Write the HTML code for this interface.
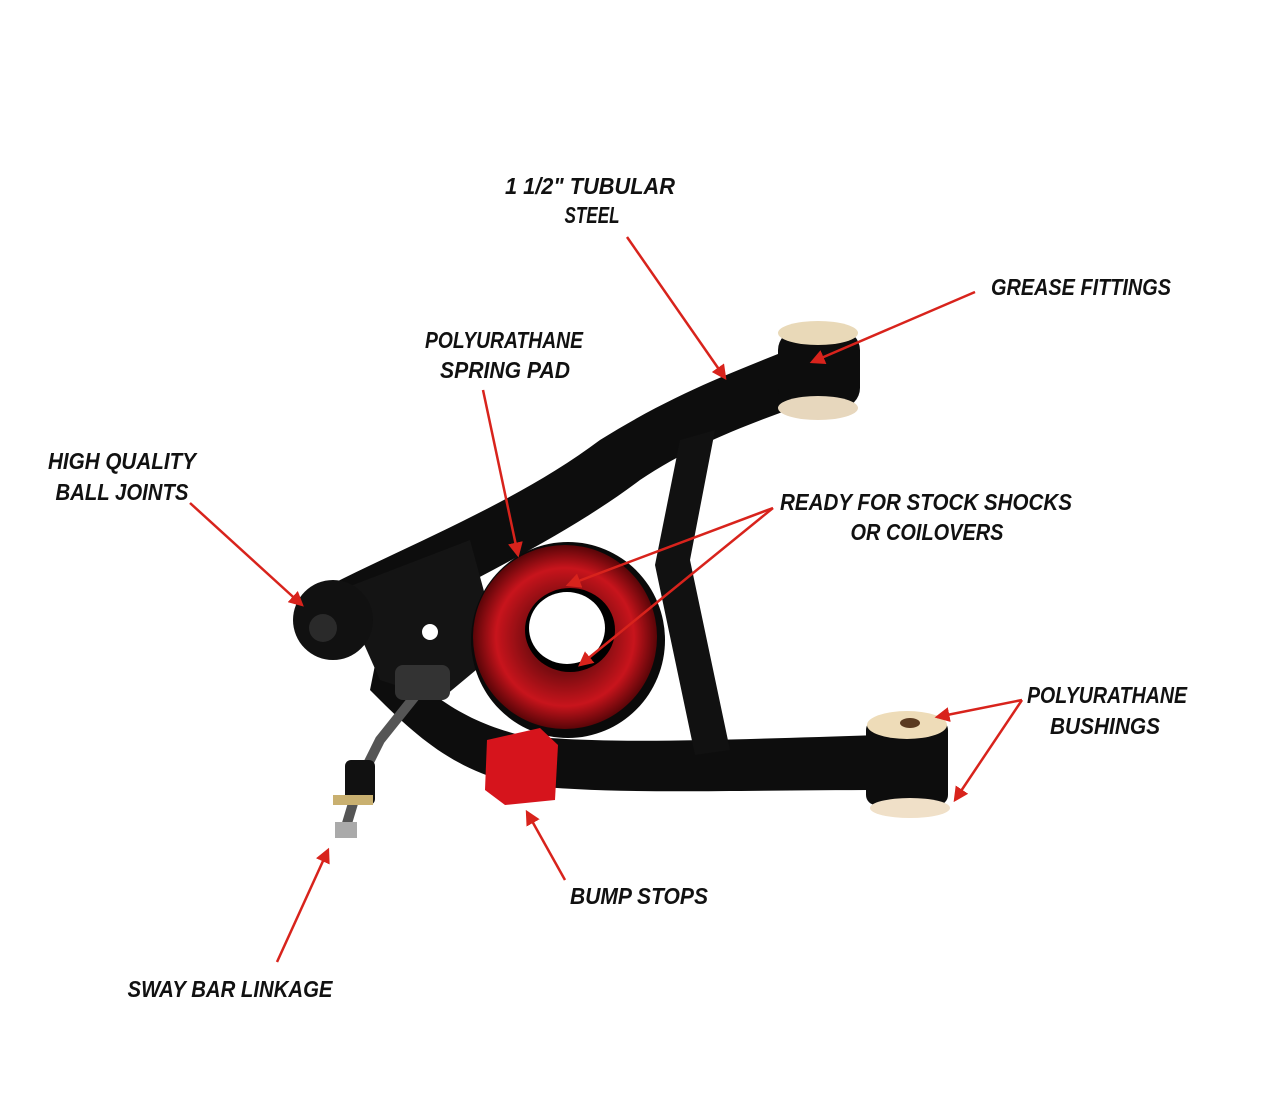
<!DOCTYPE html>
<html><head><meta charset="utf-8"><style>
html,body{margin:0;padding:0;background:#fff;}
svg{display:block}
text{font-family:"Liberation Sans",sans-serif;font-weight:bold;font-style:italic;font-size:23px;fill:#111;}
</style></head><body>
<svg width="1280" height="1097" viewBox="0 0 1280 1097" xmlns="http://www.w3.org/2000/svg">
<defs>
<marker id="ah" markerWidth="6" markerHeight="6" refX="5" refY="3" orient="auto" markerUnits="strokeWidth">
<path d="M0,0 L6,3 L0,6 Z" fill="#d8231c"/></marker>
<radialGradient id="pad" cx="0.5" cy="0.5" r="0.5"><stop offset="0.4" stop-color="#7a0c10"/><stop offset="0.75" stop-color="#c8141c"/><stop offset="1" stop-color="#5a0508"/></radialGradient>
</defs>
<!-- upper tube -->
<path d="M330,585 C420,540 520,500 600,440 C680,390 740,370 800,345 L830,395 C760,420 700,440 640,480 C560,540 470,580 380,630 Z" fill="#0d0d0d"/>
<!-- lower tube -->
<path d="M380,640 C420,690 460,720 520,735 C600,745 720,740 880,735 L885,790 C720,790 620,795 520,785 C450,770 410,730 370,690 Z" fill="#0d0d0d"/>
<!-- brace -->
<path d="M680,440 L715,430 L690,560 L730,750 L695,755 L655,565 Z" fill="#111"/>
<!-- web plate -->
<path d="M340,590 L470,540 L500,650 L440,700 L380,680 Z" fill="#141414"/>
<!-- spring pad -->
<ellipse cx="568" cy="640" rx="97" ry="98" fill="#0a0a0a"/>
<ellipse cx="565" cy="637" rx="92" ry="92" fill="url(#pad)"/>
<ellipse cx="570" cy="630" rx="45" ry="42" fill="#000"/>
<ellipse cx="567" cy="628" rx="38" ry="36" fill="#fff"/>
<!-- ball joint -->
<circle cx="333" cy="620" r="40" fill="#111"/>
<circle cx="323" cy="628" r="14" fill="#2a2a2a"/>
<circle cx="430" cy="632" r="8" fill="#fff"/>
<!-- upper bushing -->
<rect x="778" y="330" width="82" height="78" rx="20" fill="#0d0d0d"/>
<ellipse cx="818" cy="333" rx="40" ry="12" fill="#e9d9b8"/>
<ellipse cx="818" cy="408" rx="40" ry="12" fill="#e7d7bd"/>
<!-- lower bushing -->
<rect x="866" y="720" width="82" height="85" rx="10" fill="#0d0d0d"/>
<ellipse cx="907" cy="725" rx="40" ry="14" fill="#eedcb8"/>
<ellipse cx="910" cy="723" rx="10" ry="5" fill="#5a3a20"/>
<ellipse cx="910" cy="808" rx="40" ry="10" fill="#f0e0c8"/>
<!-- bump stop -->
<path d="M487,740 L540,728 L558,745 L555,800 L505,805 L485,790 Z" fill="#d6141c"/>
<!-- sway link -->
<path d="M420,690 L380,740 L360,780 L345,830" stroke="#555" stroke-width="10" fill="none"/>
<rect x="345" y="760" width="30" height="45" rx="6" fill="#111"/>
<rect x="333" y="795" width="40" height="10" fill="#c9b070"/>
<rect x="335" y="822" width="22" height="16" fill="#aaa"/>
<rect x="395" y="665" width="55" height="35" rx="8" fill="#333"/>
<!-- arrows -->
<g stroke="#d8231c" stroke-width="2.5" fill="none" marker-end="url(#ah)">
<line x1="627" y1="237" x2="725" y2="378"/>
<line x1="975" y1="292" x2="812" y2="362"/>
<line x1="483" y1="390" x2="518" y2="555"/>
<line x1="190" y1="503" x2="302" y2="605"/>
<line x1="773" y1="508" x2="568" y2="585"/>
<line x1="773" y1="508" x2="580" y2="665"/>
<line x1="1022" y1="700" x2="937" y2="717"/>
<line x1="1022" y1="700" x2="955" y2="800"/>
<line x1="565" y1="880" x2="527" y2="812"/>
<line x1="277" y1="962" x2="328" y2="850"/>
</g>
<!-- labels -->
<g text-anchor="middle">
<text x="590" y="194" textLength="170" lengthAdjust="spacingAndGlyphs">1 1/2" TUBULAR</text>
<text x="592" y="223" textLength="55" lengthAdjust="spacingAndGlyphs">STEEL</text>
<text x="1081" y="295" textLength="180" lengthAdjust="spacingAndGlyphs">GREASE FITTINGS</text>
<text x="504" y="348" textLength="158" lengthAdjust="spacingAndGlyphs">POLYURATHANE</text>
<text x="505" y="378" textLength="130" lengthAdjust="spacingAndGlyphs">SPRING PAD</text>
<text x="122" y="469" textLength="148" lengthAdjust="spacingAndGlyphs">HIGH QUALITY</text>
<text x="122" y="500" textLength="133" lengthAdjust="spacingAndGlyphs">BALL JOINTS</text>
<text x="926" y="510" textLength="292" lengthAdjust="spacingAndGlyphs">READY FOR STOCK SHOCKS</text>
<text x="927" y="540" textLength="153" lengthAdjust="spacingAndGlyphs">OR COILOVERS</text>
<text x="1107" y="703" textLength="160" lengthAdjust="spacingAndGlyphs">POLYURATHANE</text>
<text x="1105" y="734" textLength="110" lengthAdjust="spacingAndGlyphs">BUSHINGS</text>
<text x="639" y="904" textLength="138" lengthAdjust="spacingAndGlyphs">BUMP STOPS</text>
<text x="230" y="997" textLength="205" lengthAdjust="spacingAndGlyphs">SWAY BAR LINKAGE</text>
</g>
</svg>
</body></html>
